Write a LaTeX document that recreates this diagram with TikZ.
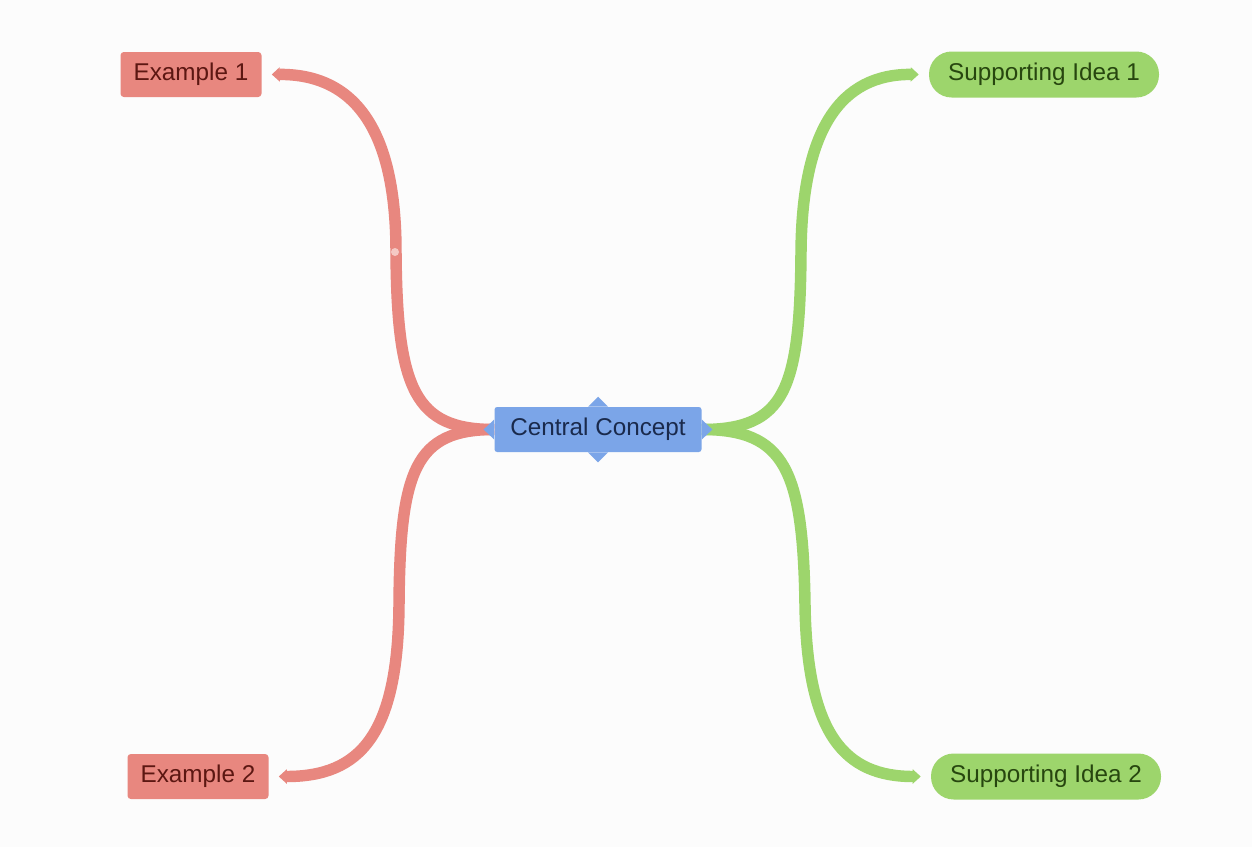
\documentclass[tikz,border=0pt]{standalone}
\usepackage{fontspec}
\setmainfont{Liberation Sans}
\usetikzlibrary{arrows.meta,backgrounds}

\definecolor{exred}{HTML}{E8877F}
\definecolor{extext}{HTML}{5C1712}
\definecolor{idgreen}{HTML}{9DD56C}
\definecolor{idtext}{HTML}{27460F}
\definecolor{ccblue}{HTML}{7BA5E8}
\definecolor{cctext}{HTML}{1A2A4C}
\definecolor{dotpink}{HTML}{F5C9C4}

\tikzset{
	label font/.style={font=\fontsize{18.2pt}{22pt}\selectfont},
	example/.style={label font,fill=exred,text=extext,rounded corners=2.5pt,
		minimum width=105.75pt,minimum height=33.75pt,inner sep=0pt},
	idea/.style={label font,fill=idgreen,text=idtext,rounded corners=17pt,
		minimum width=172.5pt,minimum height=34.5pt,inner sep=0pt},
	concept/.style={label font,fill=ccblue,text=cctext,rounded corners=2pt,
		minimum width=155.25pt,minimum height=33.75pt,inner sep=0pt},
	branch/.style={line width=8.6pt,shorten >=7.5pt,
		-{Triangle[length=6pt,width=10.5pt]}},
}

\begin{document}
\begin{tikzpicture}[x=0.75pt,y=-0.75pt]
	\useasboundingbox (0,0) rectangle (1252,847);

	\node[concept] (C) at (598,429.5) {Central Concept};
	\node[example] (E1) at (191,74.5) {Example 1};
	\node[example] (E2) at (198,776.5) {Example 2};
	\node[idea] (S1) at (1044,74.5) {Supporting Idea 1};
	\node[idea] (S2) at (1046,776.5) {Supporting Idea 2};

	% small points on the four sides of the centre
	\fill[ccblue] (C.north) ++(-7.5pt,0) -- ++(7.5pt,7.5pt) -- ++(7.5pt,-7.5pt) -- cycle;
	\fill[ccblue] (C.south) ++(-7.5pt,0) -- ++(7.5pt,-7.5pt) -- ++(7.5pt,7.5pt) -- cycle;
	\fill[ccblue] (C.west) ++(0,7.5pt) -- ++(-8pt,-7.5pt) -- ++(8pt,-7.5pt) -- cycle;
	\fill[ccblue] (C.east) ++(0,7.5pt) -- ++(8pt,-7.5pt) -- ++(-8pt,-7.5pt) -- cycle;

	\begin{scope}[on background layer]
		\fill[white!99!black] (0,0) rectangle (1252,847);
		\draw[branch,exred] (C.west) .. controls (415,429.5) and (397,390) .. (396,252)
			.. controls (396,130) and (355,74) .. (E1.east);
		\draw[branch,exred] (C.west) .. controls (415,429.5) and (400,470) .. (399,605)
			.. controls (398,735) and (360,776.5) .. (E2.east);
		\draw[branch,idgreen] (C.east) .. controls (785,429.5) and (800,390) .. (801,252)
			.. controls (802,130) and (840,74) .. (S1.west);
		\draw[branch,idgreen] (C.east) .. controls (785,429.5) and (803,470) .. (805,605)
			.. controls (807,735) and (845,776.5) .. (S2.west);
	\end{scope}

	\fill[dotpink] (395,252) circle (3pt);
\end{tikzpicture}
\end{document}
